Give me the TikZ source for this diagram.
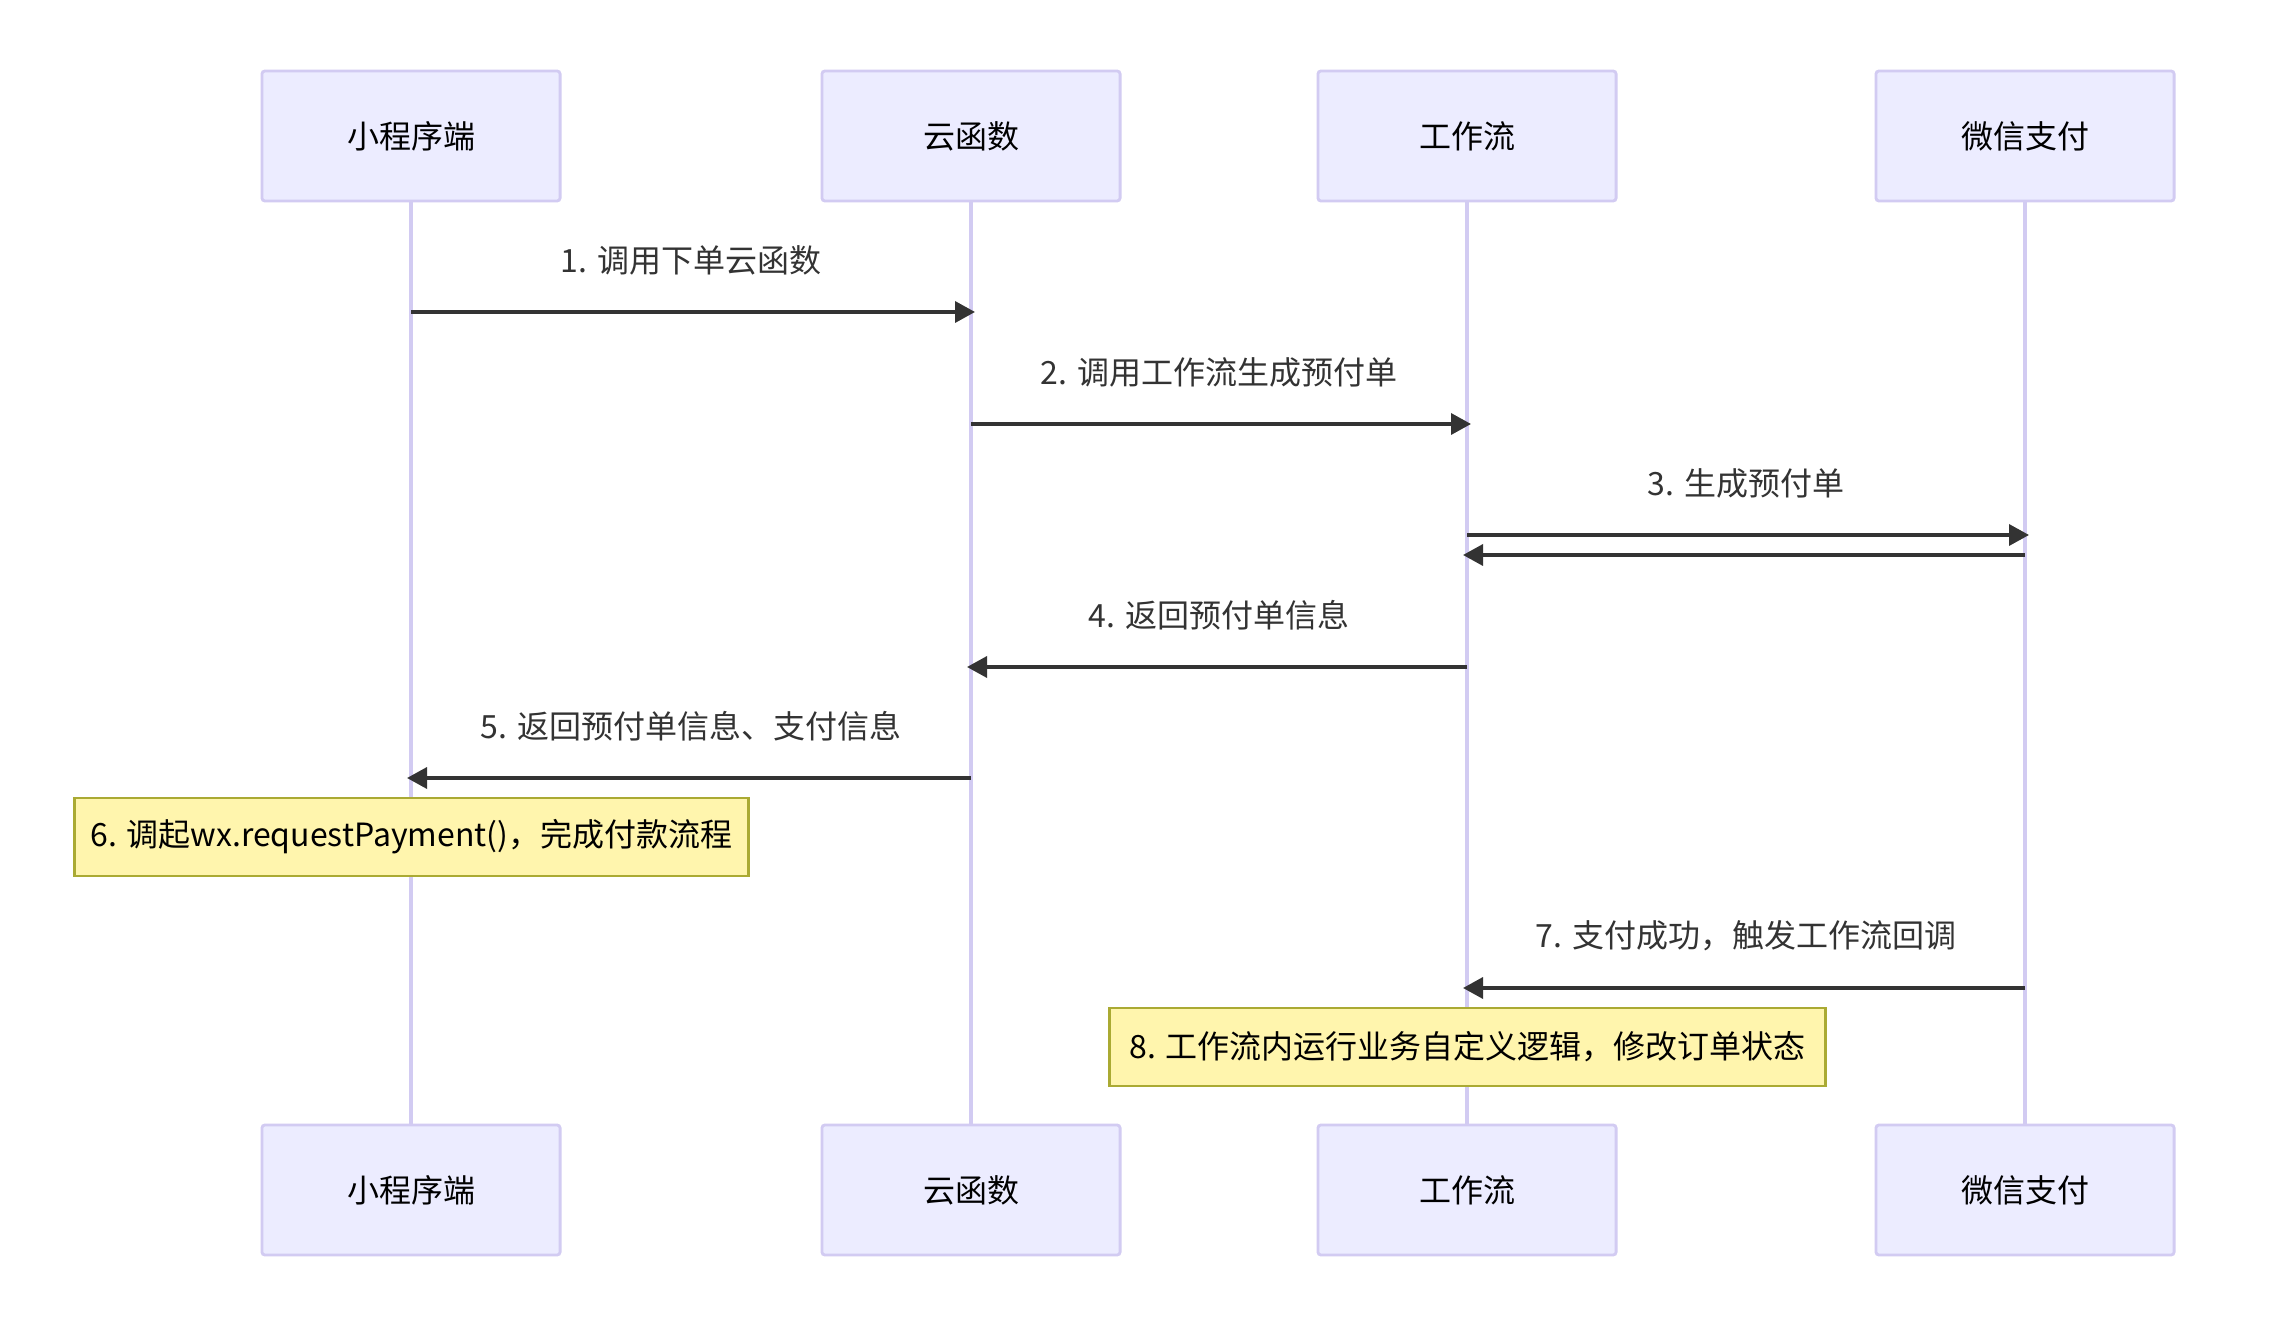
\documentclass[tikz,border=0pt]{standalone}
\usepackage{fontspec}
\setmainfont{Noto Sans CJK SC}
\usetikzlibrary{arrows.meta,positioning}

\definecolor{actorfill}{HTML}{ECECFF}
\definecolor{actorline}{HTML}{D2CBF2}
\definecolor{notefill}{HTML}{FFF5AD}
\definecolor{noteline}{HTML}{AAAA33}
\definecolor{signal}{HTML}{333333}

\tikzset{
    txt/.style = {font=\fontsize{9.1pt}{11pt}\selectfont},
    actor/.style = {txt, draw=actorline, fill=actorfill, line width=0.8pt,
        rounded corners=0.03cm, minimum width=2.98cm, minimum height=1.30cm,
        inner sep=0pt, text=black},
    lifeline/.style = {draw=actorline, line width=0.9pt},
    note/.style = {txt, draw=noteline, fill=notefill, line width=0.8pt,
        minimum height=0.78cm, inner sep=0pt, text=black},
    msg/.style = {draw=signal, line width=1pt, shorten >=-0.04cm,
        -{Triangle[length=0.2cm, width=0.21cm]}},
    msgtext/.style = {txt, text=signal, yshift=0.52cm},
}

\begin{document}
\begin{tikzpicture}[x=0.01cm, y=-0.01cm]
    \useasboundingbox[fill=white] (0,0) rectangle (2270,1322);

    \def \ytop {136};
    \def \ybot {1190};

    % actors, top and bottom, with their lifelines
    \foreach \x/\nm/\lbl in {411/cli/小程序端, 971/fn/云函数, 1467/wf/工作流, 2025/pay/微信支付} {
        \node[actor] (\nm top) at (\x, \ytop) {\lbl};
        \node[actor] (\nm bot) at (\x, \ybot) {\lbl};
        \draw[lifeline] (\nm top) -- (\nm bot);
    }

    % end points of the messages on the lifelines
    \coordinate (m1a) at (clitop |- 0,312);
    \coordinate (m1b) at (fntop |- 0,312);
    \coordinate (m2a) at (fntop |- 0,424);
    \coordinate (m2b) at (wftop |- 0,424);
    \coordinate (m3a) at (wftop |- 0,535);
    \coordinate (m3b) at (paytop |- 0,535);
    \coordinate (r3a) at (paytop |- 0,555);
    \coordinate (r3b) at (wftop |- 0,555);
    \coordinate (m4a) at (wftop |- 0,667);
    \coordinate (m4b) at (fntop |- 0,667);
    \coordinate (m5a) at (fntop |- 0,778);
    \coordinate (m5b) at (clitop |- 0,778);
    \coordinate (m7a) at (paytop |- 0,988);
    \coordinate (m7b) at (wftop |- 0,988);

    \draw[msg] (m1a) -- (m1b) node[midway, msgtext] (l1) {1. 调用下单云函数};
    \draw[msg] (m2a) -- (m2b) node[midway, msgtext] (l2) {2. 调用工作流生成预付单};
    \draw[msg] (m3a) -- (m3b) node[midway, msgtext] (l3) {3. 生成预付单};
    \draw[msg] (r3a) -- (r3b);
    \draw[msg] (m4a) -- (m4b) node[midway, msgtext] (l4) {4. 返回预付单信息};
    \draw[msg] (m5a) -- (m5b) node[midway, msgtext] (l5) {5. 返回预付单信息、支付信息};

    \node[note, minimum width=6.73cm] (n6) at (411.5, 837) {6. 调起wx.requestPayment()，完成付款流程};

    \draw[msg] (m7a) -- (m7b) node[midway, msgtext] (l7) {7. 支付成功，触发工作流回调};

    \node[note, minimum width=7.15cm] (n8) at (1467.5, 1047) {8. 工作流内运行业务自定义逻辑，修改订单状态};

\end{tikzpicture}
\end{document}
